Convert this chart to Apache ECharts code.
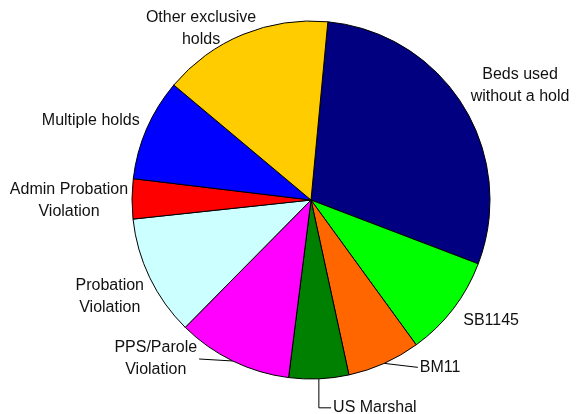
<!DOCTYPE html>
<html><head><meta charset="utf-8">
<script src="https://cdn.jsdelivr.net/npm/echarts@6/dist/echarts.min.js"></script>
<style>html,body{margin:0;padding:0;background:#fff}#c{width:576px;height:414px}</style>
</head><body><div id="c"></div>
<script>
// Data
const categories = ['Beds used\nwithout a hold', 'SB1145', 'BM11', 'US Marshal', 'PPS/Parole\nViolation', 'Probation\nViolation', 'Admin Probation\nViolation', 'Multiple holds', 'Other exclusive\nholds'];
const values = [29.3, 9.2, 6.6, 5.4, 10.4, 10.9, 3.6, 9.2, 15.4];

// Styles / layout (kept separate from data)
const colors = ['#000080', '#00FF00', '#FF6600', '#008000', '#FF00FF', '#CCFFFF', '#FF0000', '#0000FF', '#FFCC00'];
const labelOffsets = [[57, -20], [38, 12], [56, 4], [56, 29], [-77, -2], [-40, 19], [-63, 2], [-56, -8], [-42, -6]];
const leader = ['none', 'none', 'straight', 'elbow', 'straight', 'none', 'none', 'none', 'none'];

const chart = echarts.init(document.getElementById('c'), null, {renderer: 'canvas'});
chart.setOption({
  animation: false,
  backgroundColor: '#ffffff',
  series: [{
    type: 'pie',
    center: [311, 200],
    radius: 179,
    startAngle: 84.6,
    clockwise: true,
    avoidLabelOverlap: false,
    silent: true,
    itemStyle: {borderColor: '#000', borderWidth: 1},
    label: {
      show: true, position: 'outside',
      fontFamily: '"Liberation Sans", Arial, sans-serif', fontSize: 16,
      lineHeight: 22, color: '#111'
    },
    labelLine: {show: true, length: 5, length2: 5, smooth: false, lineStyle: {color: '#000', width: 1}},
    labelLayout: function (p) {
      const i = p.dataIndex;
      const o = labelOffsets[i];
      const e = p.labelLinePoints ? p.labelLinePoints[0] : [0, 0];
      const x = e[0] + o[0], y = e[1] + o[1];
      const w = p.labelRect.width;
      let line;
      if (leader[i] === 'straight') {
        const endX = o[0] > 0 ? x - w / 2 - 2 : x + w / 2 + 2;
        line = [e, [endX, y], [endX, y]];
      } else if (leader[i] === 'elbow') {
        line = [e, [e[0], y], [x - w / 2 - 2, y]];
      } else {
        line = [e, e, e];
      }
      return {x: x, y: y, align: 'center', verticalAlign: 'middle', labelLinePoints: line};
    },
    data: categories.map(function (c, i) {
      return {
        name: c, value: values[i],
        itemStyle: {color: colors[i]},
        labelLine: {lineStyle: {opacity: leader[i] === 'none' ? 0 : 1}}
      };
    })
  }]
});
</script>
</body></html>
